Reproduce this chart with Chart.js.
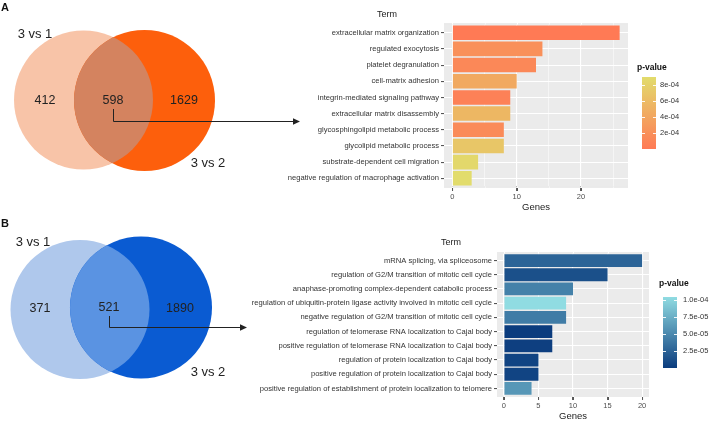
<!DOCTYPE html>
<html><head><meta charset="utf-8">
<script src="https://cdn.jsdelivr.net/npm/chart.js@4.4.1/dist/chart.umd.min.js"></script>
<style>
html,body{margin:0;padding:0;background:#fff;}
#wrap{position:relative;width:713px;height:424px;overflow:hidden;}
canvas{position:absolute;}
</style></head><body>
<div id="wrap">
<canvas id="vennA" width="310" height="200" style="left:0;top:0"></canvas>
<canvas id="vennB" width="310" height="224" style="left:0;top:200px"></canvas>
<canvas id="barA" width="473" height="215" style="left:240px;top:0"></canvas>
<canvas id="barB" width="473" height="209" style="left:240px;top:215px"></canvas>
</div>
<script>
// ---------- DATA ----------
const vennSetLabels = ['3 vs 1', '3 vs 2'];
const vennACounts = [412, 598, 1629];
const vennBCounts = [371, 521, 1890];

const termsA = [
  'extracellular matrix organization',
  'regulated exocytosis',
  'platelet degranulation',
  'cell-matrix adhesion',
  'integrin-mediated signaling pathway',
  'extracellular matrix disassembly',
  'glycosphingolipid metabolic process',
  'glycolipid metabolic process',
  'substrate-dependent cell migration',
  'negative regulation of macrophage activation'
];
const genesA = [26, 14, 13, 10, 9, 9, 8, 8, 4, 3];
const pvalA = [0.0e-4, 2.0e-4, 1.3e-4, 4.3e-4, 0.6e-4, 5.6e-4, 1.6e-4, 7.0e-4, 8.6e-4, 9.0e-4];
const xTicksA = [0, 5, 10, 15, 20, 25];
const xLabelsA = [0, 10, 20];
const pTicksA = [2e-4, 4e-4, 6e-4, 8e-4];
const pTickLabelsA = ['2e-04', '4e-04', '6e-04', '8e-04'];

const termsB = [
  'mRNA splicing, via spliceosome',
  'regulation of G2/M transition of mitotic cell cycle',
  'anaphase-promoting complex-dependent catabolic process',
  'regulation of ubiquitin-protein ligase activity involved in mitotic cell cycle',
  'negative regulation of G2/M transition of mitotic cell cycle',
  'regulation of telomerase RNA localization to Cajal body',
  'positive regulation of telomerase RNA localization to Cajal body',
  'regulation of protein localization to Cajal body',
  'positive regulation of protein localization to Cajal body',
  'positive regulation of establishment of protein localization to telomere'
];
const genesB = [20, 15, 10, 9, 9, 7, 7, 5, 5, 4];
const pvalB = [2.6e-5, 1.3e-5, 4.5e-5, 1.05e-4, 4.2e-5, 0.0e-5, 0.2e-5, 0.5e-5, 0.5e-5, 6.0e-5];
const xTicksB = [0, 5, 10, 15, 20];
const xLabelsB = [0, 5, 10, 15, 20];
const pTicksB = [2.5e-5, 5e-5, 7.5e-5, 1e-4];
const pTickLabelsB = ['2.5e-05', '5.0e-05', '7.5e-05', '1.0e-04'];

// ---------- helpers ----------
const FONT = '"Liberation Sans", Arial, sans-serif';
Chart.defaults.font.family = FONT;
function hexRgb(h){h=h.replace('#','');return [0,2,4].map(i=>parseInt(h.substr(i,2),16));}
function mix(lo, hi, t){
  const a = hexRgb(lo), b = hexRgb(hi);
  const c = a.map((v,i)=>Math.round(v + (b[i]-v)*t));
  return 'rgb(' + c.join(',') + ')';
}

// ---------- Venn ----------
const vennPlugin = {
  id: 'venn',
  afterDatasetsDraw(chart, args, o) {
    const ctx = chart.ctx;
    const pts = chart.getDatasetMeta(0).data;
    const [p0, p1] = pts;
    ctx.save();
    ctx.beginPath(); ctx.arc(p0.x, p0.y, p0.options.radius, 0, Math.PI*2); ctx.clip();
    ctx.beginPath(); ctx.arc(p1.x, p1.y, p1.options.radius, 0, Math.PI*2);
    ctx.fillStyle = o.interColor; ctx.fill();
    ctx.restore();
  },
  afterDraw(chart, args, o) {
    const ctx = chart.ctx, xs = chart.scales.x, ys = chart.scales.y;
    const X = v => xs.getPixelForValue(v), Y = v => ys.getPixelForValue(v);
    ctx.save();
    ctx.fillStyle = '#111';
    ctx.font = 'bold 11px ' + FONT;
    ctx.textAlign = 'left'; ctx.textBaseline = 'middle';
    ctx.fillText(o.letter, X(o.letterPos[0]), Y(o.letterPos[1]));
    ctx.fillStyle = '#222';
    ctx.textAlign = 'center';
    ctx.font = '13px ' + FONT;
    o.setPos.forEach((p, i) => ctx.fillText(vennSetLabels[i], X(p[0]), Y(p[1])));
    ctx.font = '12.5px ' + FONT;
    o.countPos.forEach((p, i) => ctx.fillText(String(o.counts[i]), X(p[0]), Y(p[1])));
    // arrow
    const a = o.arrow;
    ctx.strokeStyle = '#222'; ctx.lineWidth = 1;
    ctx.beginPath();
    ctx.moveTo(X(a[0]) + 0.5, Y(a[1]));
    ctx.lineTo(X(a[0]) + 0.5, Y(a[2]) + 0.5);
    ctx.lineTo(X(a[3]) - 5, Y(a[2]) + 0.5);
    ctx.stroke();
    ctx.beginPath();
    ctx.moveTo(X(a[3]), Y(a[2]) + 0.5);
    ctx.lineTo(X(a[3]) - 7, Y(a[2]) + 0.5 - 3.2);
    ctx.lineTo(X(a[3]) - 7, Y(a[2]) + 0.5 + 3.2);
    ctx.closePath(); ctx.fillStyle = '#222'; ctx.fill();
    ctx.restore();
  }
};

function makeVenn(id, W, H, counts, circles, colors, extra) {
  new Chart(document.getElementById(id), {
    type: 'bubble',
    data: { datasets: [{
      data: circles.map(c => ({x: c[0], y: c[1], r: c[2]})),
      backgroundColor: colors.slice(0, 2), borderWidth: 0, hoverRadius: 0, clip: false
    }]},
    options: {
      responsive: false, animation: false, events: [],
      layout: { padding: 0, autoPadding: false },
      scales: {
        x: { type: 'linear', min: 0, max: W, display: false },
        y: { type: 'linear', min: 0, max: H, reverse: true, display: false }
      },
      plugins: {
        legend: { display: false }, tooltip: { enabled: false },
        venn: Object.assign({ counts: counts, interColor: colors[2] }, extra)
      }
    },
    plugins: [vennPlugin]
  });
}

makeVenn('vennA', 310, 200, vennACounts,
  [[83.5, 100, 69.5], [144.5, 100.5, 70.5]],
  ['#F8C4A8', '#FD5F0C', '#D4835F'],
  { letter: 'A', letterPos: [1, 8],
    setPos: [[35, 34], [208, 163]],
    countPos: [[45, 101], [113, 101], [184, 101]],
    arrow: [113, 109, 121, 300] });

makeVenn('vennB', 310, 224, vennBCounts,
  [[80, 109.5, 69.5], [141, 107.5, 71]],
  ['#AFC8EC', '#0A5BD2', '#5A93E2'],
  { letter: 'B', letterPos: [1, 24],
    setPos: [[33, 42], [208, 172]],
    countPos: [[40, 109], [109, 108], [180, 109]],
    arrow: [109, 116, 127, 247] });

// ---------- Bars ----------
const TICKCOL = '#555';
const panelPlugin = {
  id: 'panel',
  beforeDraw(chart, args, o) {
    const {left, right, top, bottom} = chart.chartArea, ctx = chart.ctx;
    ctx.save(); ctx.fillStyle = '#EBEBEB';
    ctx.fillRect(left, top - o.ext, right - left, bottom - top + 2*o.ext);
    ctx.restore();
  },
  afterDraw(chart, args, o) {
    const {left, right, top, bottom} = chart.chartArea, ctx = chart.ctx;
    const xs = chart.scales.x;
    ctx.save();
    ctx.fillStyle = '#EBEBEB';
    ctx.fillRect(left, top - o.ext, right - left, o.ext);
    ctx.fillRect(left, bottom, right - left, o.ext);
    ctx.strokeStyle = '#fff';
    o.xTicks.forEach(v => {
      const px = Math.round(xs.getPixelForValue(v)) + 0.5;
      ctx.lineWidth = o.xLabels.includes(v) ? 1.1 : 0.5;
      ctx.beginPath(); ctx.moveTo(px, top - o.ext); ctx.lineTo(px, top);
      ctx.moveTo(px, bottom); ctx.lineTo(px, bottom + o.ext); ctx.stroke();
    });
    ctx.strokeStyle = TICKCOL; ctx.lineWidth = 1;
    o.xLabels.forEach(v => {
      const px = Math.round(xs.getPixelForValue(v)) + 0.5;
      ctx.beginPath(); ctx.moveTo(px, bottom + o.ext); ctx.lineTo(px, bottom + o.ext + 3); ctx.stroke();
    });
    // Term title
    ctx.fillStyle = '#222'; ctx.font = '9px ' + FONT;
    ctx.textAlign = 'center'; ctx.textBaseline = 'middle';
    ctx.fillText('Term', o.termPos[0], o.termPos[1]);
    // legend colorbar
    const L = o.legend;
    const pmin = Math.min(...o.pvals), pmax = Math.max(...o.pvals);
    const vy = v => L.bottom - (v - pmin) / (pmax - pmin) * (L.bottom - L.top);
    const g = ctx.createLinearGradient(0, L.bottom, 0, L.top);
    g.addColorStop(0, mix(o.lo, o.hi, 0)); g.addColorStop(1, mix(o.lo, o.hi, 1));
    ctx.fillStyle = g; ctx.fillRect(L.left, L.top, L.width, L.bottom - L.top);
    ctx.strokeStyle = 'rgba(255,255,255,0.9)'; ctx.lineWidth = 1;
    o.pTicks.forEach(v => {
      const y = Math.round(vy(v)) + 0.5;
      ctx.beginPath();
      ctx.moveTo(L.left, y); ctx.lineTo(L.left + 3, y);
      ctx.moveTo(L.left + L.width - 3, y); ctx.lineTo(L.left + L.width, y);
      ctx.stroke();
    });
    ctx.fillStyle = '#333'; ctx.font = '7.5px ' + FONT; ctx.textAlign = 'left';
    o.pTicks.forEach((v, i) => ctx.fillText(o.pTickLabels[i], L.labelX, vy(v)));
    ctx.fillStyle = '#111'; ctx.font = 'bold 8.5px ' + FONT;
    ctx.fillText('p-value', L.titleX, L.titleY);
    ctx.restore();
  }
};

function makeBar(id, cfg) {
  const el = document.getElementById(id);
  const W = el.width, H = el.height;
  const panelH = cfg.panelBottom - cfg.panelTop;
  const ext = 0.1 * panelH / (cfg.terms.length + 0.2);
  const maxG = Math.max(...cfg.genes);
  const pmin = Math.min(...cfg.pvals), pmax = Math.max(...cfg.pvals);
  const colors = cfg.pvals.map(p => mix(cfg.lo, cfg.hi, (p - pmin) / (pmax - pmin)));
  const isMajor = c => c.tick && cfg.xLabels.includes(c.tick.value);
  new Chart(el, {
    type: 'bar',
    data: { labels: cfg.terms, datasets: [{
      data: cfg.genes, backgroundColor: colors,
      barPercentage: 0.9, categoryPercentage: 1, borderWidth: 0
    }]},
    options: {
      indexAxis: 'y', responsive: false, animation: false, events: [],
      layout: { padding: { top: cfg.panelTop + ext, right: W - cfg.panelRight, left: 0, bottom: 0 } },
      scales: {
        x: {
          type: 'linear', min: -0.05 * maxG, max: 1.05 * maxG,
          afterBuildTicks: s => { s.ticks = cfg.xTicks.map(v => ({ value: v })); },
          afterFit: s => { s.height = H - cfg.panelBottom + ext; },
          grid: {
            color: '#fff',
            lineWidth: c => isMajor(c) ? 1.1 : 0.5,
            tickColor: c => isMajor(c) ? TICKCOL : 'rgba(0,0,0,0)',
            tickLength: 3 + ext, tickWidth: 1
          },
          border: { display: false },
          ticks: {
            autoSkip: false, maxRotation: 0, padding: 1,
            callback: v => cfg.xLabels.includes(v) ? String(v) : '',
            font: { size: 7.5 }, color: '#4d4d4d'
          },
          title: { display: true, text: 'Genes', font: { size: 9.5 }, color: '#222', padding: { top: 0, bottom: 2 } }
        },
        y: {
          type: 'category',
          afterFit: s => { s.width = cfg.panelLeft; },
          grid: { color: '#fff', lineWidth: 1.1, offset: false, tickColor: TICKCOL, tickLength: 3 },
          border: { display: false },
          ticks: { autoSkip: false, padding: 2, font: { size: 7.6 }, color: '#333' }
        }
      },
      plugins: {
        legend: { display: false }, tooltip: { enabled: false },
        panel: {
          ext: ext, xTicks: cfg.xTicks, xLabels: cfg.xLabels, termPos: cfg.termPos,
          legend: cfg.legend, pvals: cfg.pvals, lo: cfg.lo, hi: cfg.hi,
          pTicks: cfg.pTicks, pTickLabels: cfg.pTickLabels
        }
      }
    },
    plugins: [panelPlugin]
  });
}

makeBar('barA', {
  terms: termsA, genes: genesA, pvals: pvalA, xTicks: xTicksA, xLabels: xLabelsA,
  pTicks: pTicksA, pTickLabels: pTickLabelsA,
  lo: '#FF7A55', hi: '#E2DC6C',
  panelTop: 23, panelBottom: 188, panelLeft: 204, panelRight: 388,
  termPos: [147, 15],
  legend: { left: 402, width: 14, top: 77, bottom: 149, labelX: 420, titleX: 397, titleY: 68 }
});

makeBar('barB', {
  terms: termsB, genes: genesB, pvals: pvalB, xTicks: xTicksB, xLabels: xLabelsB,
  pTicks: pTicksB, pTickLabels: pTickLabelsB,
  lo: '#0B3C7E', hi: '#90DCE2',
  panelTop: 37, panelBottom: 182, panelLeft: 257, panelRight: 409,
  termPos: [211, 28],
  legend: { left: 423, width: 14, top: 82, bottom: 153, labelX: 443, titleX: 419, titleY: 69 }
});
</script>
</body></html>
